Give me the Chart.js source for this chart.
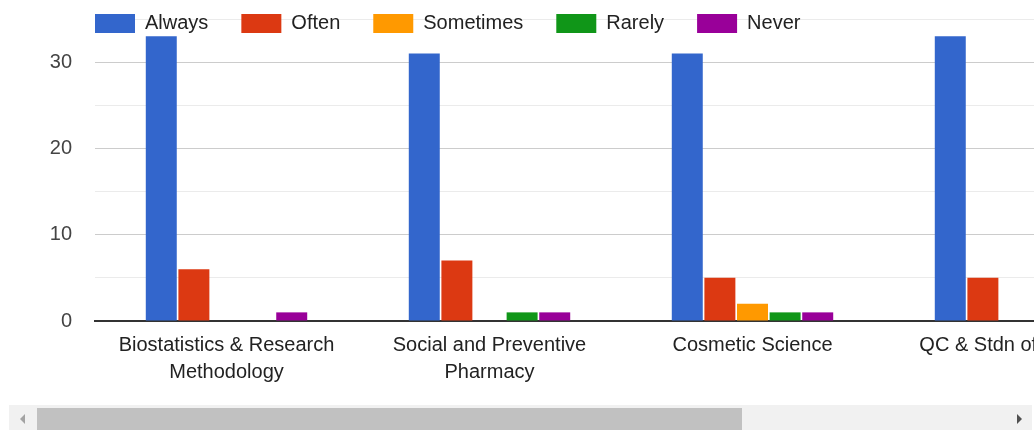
<!DOCTYPE html>
<html>

<head>
    <title>Responses</title>
    <script src="https://cdn.jsdelivr.net/npm/chart.js"></script>
    <style>
        body {
            margin: 0;
            background: #fff;
            font-family: Arial, "Liberation Sans", sans-serif;
        }

        .viewport {
            position: relative;
            width: 1034px;
            height: 430px;
            overflow: hidden;
        }

        .chart-container {
            position: absolute;
            left: 0;
            top: 0;
            width: 1150px;
            height: 400px;
        }

        /* fake horizontal scrollbar, like the original embed */
        .track {
            position: absolute;
            left: 9px;
            top: 405px;
            width: 1023px;
            height: 25px;
            background: #f1f1f1;
        }

        .thumb {
            position: absolute;
            left: 28px;
            top: 3px;
            width: 705px;
            height: 22px;
            background: #c1c1c1;
        }

        .arrow-left, .arrow-right {
            position: absolute;
            top: 9px;
            width: 0;
            height: 0;
            border-top: 5px solid transparent;
            border-bottom: 5px solid transparent;
        }

        .arrow-left {
            left: 11px;
            border-right: 5px solid #a3a3a3;
        }

        .arrow-right {
            left: 1008px;
            border-left: 5px solid #505050;
        }
    </style>
</head>

<body>
    <div class="viewport">
        <div class="chart-container">
            <canvas id="responsesChart"></canvas>
        </div>
        <div class="track">
            <div class="arrow-left"></div>
            <div class="thumb"></div>
            <div class="arrow-right"></div>
        </div>
    </div>

    <script>
        // Data
        var categories = [
            ['Biostatistics & Research', 'Methodology'],
            ['Social and Preventive', 'Pharmacy'],
            'Cosmetic Science',
            'QC & Stdn of Herbals'
        ];
        var always = [33, 31, 31, 33];
        var often = [6, 7, 5, 5];
        var sometimes = [0, 0, 2, 0];
        var rarely = [0, 1, 1, null];   // last one is cut off in the picture
        var never = [1, 1, 1, null];
        var yTickLabels = [0, 10, 20, 30];

        var FONT = 'Arial, "Liberation Sans", sans-serif';

        // legend takes no room and sits on the top gridline, Google-chart style
        var legendShift = {
            id: 'legendShift',
            afterInit: function (chart) {
                var lg = chart.legend;
                if (!lg) return;
                var origFit = lg.fit;
                lg.fit = function () {
                    origFit.call(this);
                    this.height = 0;
                };
            },
            afterLayout: function (chart) {
                var lg = chart.legend;
                if (!lg) return;
                lg.left = 62;
                lg.right = 1160;
                lg.width = lg.right - lg.left;
                lg.top = -19.5;
                lg.bottom = 60;
                lg.height = lg.bottom - lg.top;
            }
        };

        var ctx = document.getElementById('responsesChart').getContext('2d');
        var responsesChart = new Chart(ctx, {
            type: 'bar',
            data: {
                labels: categories,
                datasets: [
                    { label: 'Always', data: always, backgroundColor: '#3366cc' },
                    { label: 'Often', data: often, backgroundColor: '#dc3912' },
                    { label: 'Sometimes', data: sometimes, backgroundColor: '#ff9900' },
                    { label: 'Rarely', data: rarely, backgroundColor: '#109618' },
                    { label: 'Never', data: never, backgroundColor: '#990099' }
                ]
            },
            options: {
                responsive: true,
                maintainAspectRatio: false,
                animation: false,
                categoryPercentage: 0.62,
                barPercentage: 0.95,
                layout: {
                    padding: { top: 19, right: 3, bottom: 0, left: 0 }
                },
                plugins: {
                    legend: {
                        position: 'top',
                        align: 'start',
                        labels: {
                            boxWidth: 40,
                            boxHeight: 19,
                            padding: 33,
                            color: '#222',
                            font: { family: FONT, size: 20 }
                        }
                    },
                    tooltip: { enabled: false }
                },
                scales: {
                    x: {
                        grid: { display: false, drawTicks: false },
                        border: { display: true, color: '#333', width: 2 },
                        ticks: {
                            color: '#222',
                            padding: 11,
                            maxRotation: 0,
                            autoSkip: false,
                            font: { family: FONT, size: 20, lineHeight: 1.35 }
                        },
                        afterFit: function (scale) {
                            scale.height = 79;
                        }
                    },
                    y: {
                        min: 0,
                        max: 35,
                        grid: {
                            drawTicks: false,
                            color: function (c) {
                                return c.tick && c.tick.value % 10 === 0 ? '#cccccc' : '#ebebeb';
                            }
                        },
                        border: { display: false },
                        ticks: {
                            stepSize: 5,
                            color: '#444',
                            padding: 23,
                            font: { family: FONT, size: 20 },
                            callback: function (value) {
                                return yTickLabels.indexOf(value) >= 0 ? value : '';
                            }
                        },
                        afterFit: function (scale) {
                            scale.width = 95;
                            scale.paddingTop = 0;
                        }
                    }
                }
            },
            plugins: [legendShift]
        });
    </script>
</body>

</html>
